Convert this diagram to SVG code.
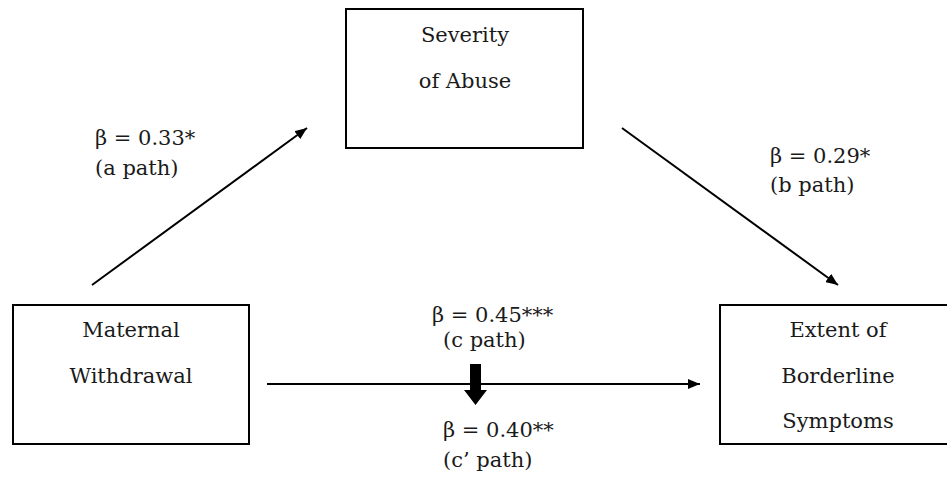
<svg xmlns="http://www.w3.org/2000/svg" width="947" height="477" viewBox="0 0 947 477">
  <style>
    .box { fill: #ffffff; stroke: #000000; stroke-width: 2; }
    .conn { stroke: #000000; stroke-width: 2; fill: none; }
    text { font-family: "DejaVu Serif", serif; font-size: 21px; fill: #1a1a1a; }
    .ctr { text-anchor: middle; }
  </style>
  <defs>
    <marker id="arrow" viewBox="0 0 12 10" refX="12" refY="5" markerWidth="12" markerHeight="10" markerUnits="userSpaceOnUse" orient="auto">
      <path d="M0,0 L12,5 L0,10 Z" fill="#000000"/>
    </marker>
  </defs>
  <rect width="947" height="477" fill="#ffffff"/>

  <g id="severity">
    <rect class="box" x="346" y="9" width="237" height="139"/>
    <text class="ctr" x="465" y="42">Severity</text>
    <text class="ctr" x="465" y="88">of Abuse</text>
  </g>

  <g id="maternal">
    <rect class="box" x="13" y="305" width="236" height="139"/>
    <text class="ctr" x="131" y="337">Maternal</text>
    <text class="ctr" x="131" y="383">Withdrawal</text>
  </g>

  <g id="borderline">
    <rect class="box" x="720" y="305" width="236" height="139"/>
    <text class="ctr" x="838" y="337">Extent of</text>
    <text class="ctr" x="838" y="383">Borderline</text>
    <text class="ctr" x="838" y="428">Symptoms</text>
  </g>

  <g id="connectors">
    <line class="conn" x1="92" y1="285" x2="307" y2="128" marker-end="url(#arrow)"/>
    <line class="conn" x1="622" y1="128" x2="838" y2="285" marker-end="url(#arrow)"/>
    <line class="conn" x1="267" y1="384" x2="700" y2="384" marker-end="url(#arrow)"/>
    <polygon points="470,364 481,364 481,390 487,390 475.5,405 464,390 470,390" fill="#000000"/>
  </g>

  <g id="labels">
    <text x="95" y="145">β = 0.33*</text>
    <text x="95" y="175">(a path)</text>
    <text x="770" y="163">β = 0.29*</text>
    <text x="770" y="192">(b path)</text>
    <text x="432" y="322">β = 0.45***</text>
    <text x="443" y="347">(c path)</text>
    <text x="443" y="437">β = 0.40**</text>
    <text x="443" y="467">(c’ path)</text>
  </g>
</svg>
